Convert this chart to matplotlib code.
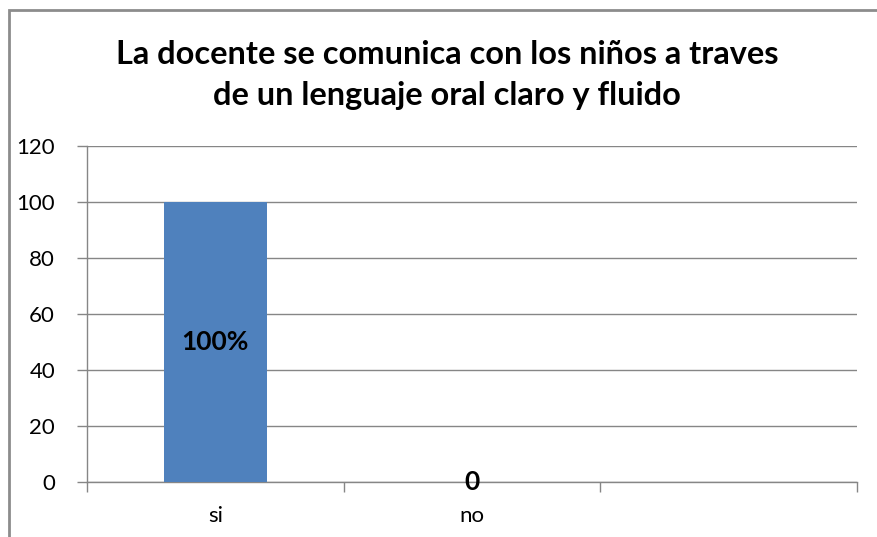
import matplotlib
matplotlib.use("Agg")
import matplotlib.pyplot as plt
from matplotlib.patches import Rectangle

categories = ["si", "no", ""]
values = [100, 0, None]
labels = ["100%", "0", None]
yticks = [0, 20, 40, 60, 80, 100, 120]
title = "La docente se comunica con los niños a traves\nde un lenguaje oral claro y fluido"

W, H = 877, 537
fig = plt.figure(figsize=(W/100, H/100), dpi=100)
fig.patch.set_facecolor("white")

# outer chart border
fig.patches.append(Rectangle((9/W, -0.05), 1.2, (H-10)/H + 0.05, transform=fig.transFigure,
                             fill=False, edgecolor="#8c8c8c", linewidth=2.0))

ax = fig.add_axes([87/W, (H-482)/H, (857-87)/W, (482-146)/H])
font = "Lato"
gray = "#868686"

xs = [i for i, v in enumerate(values) if v is not None]
vals = [values[i] for i in xs]
ax.bar(xs, vals, width=0.4, color="#4F81BD", zorder=3)

for i in xs:
    lab = labels[i]
    v = values[i]
    ax.text(i, v/2, lab, ha="center", va="center", fontsize=19, fontweight="bold",
            family=font, color="black", zorder=4)

ax.set_xlim(-0.5, len(categories) - 0.5)
ax.set_ylim(0, 120)
ax.set_yticks(yticks)
ax.set_yticklabels([str(t) for t in yticks], family=font, fontsize=16)
ax.yaxis.grid(True, color=gray, linewidth=1.0, zorder=0)
ax.set_axisbelow(True)

ax.set_xticks(range(len(categories)))
ax.set_xticklabels(categories, family=font, fontsize=16)
ax.tick_params(axis="x", which="major", length=0, pad=17)
ax.set_xticks([i - 0.5 for i in range(len(categories) + 1)], minor=True)
ax.tick_params(axis="x", which="minor", length=7, color=gray, width=1)
ax.tick_params(axis="y", length=7, color=gray, width=1, pad=16)

for s in ["top", "right"]:
    ax.spines[s].set_visible(False)
for s in ["left", "bottom"]:
    ax.spines[s].set_color(gray)
    ax.spines[s].set_linewidth(1.0)

fig.text(447/W, 1 - 75/H, title, ha="center", va="center", fontsize=23.4,
         fontweight="bold", family=font, linespacing=1.48, color="black")

fig.savefig("out.png", dpi=100)
